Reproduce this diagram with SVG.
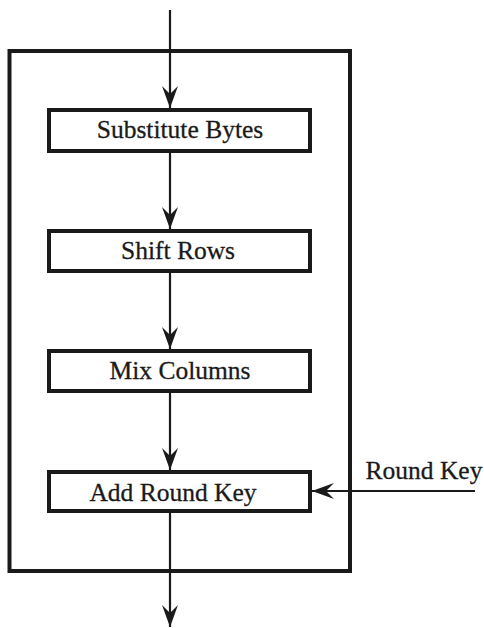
<svg xmlns="http://www.w3.org/2000/svg" width="484" height="628" viewBox="0 0 484 628">
<style>
.frame{fill:none;stroke:#1a1a1a;stroke-width:4}
.box{fill:#fff;stroke:#1a1a1a;stroke-width:4}
.lbl{font-family:"Liberation Serif","Times New Roman",serif;font-size:25.5px;fill:#1a1a1a;stroke:#1a1a1a;stroke-width:0.3;text-anchor:middle}
.conn{stroke:#1a1a1a;stroke-width:2.2;fill:none}
</style>
<defs>
<marker id="ah" viewBox="0 0 22 16" refX="22" refY="8" markerWidth="22" markerHeight="16" markerUnits="userSpaceOnUse" orient="auto">
<path d="M0,0 L22,8 L0,16 L8,8 Z" fill="#1a1a1a"/>
</marker>
</defs>
<rect id="round" class="frame" x="9.5" y="51" width="340.5" height="520"/>
<g id="connectors">
<line class="conn" x1="170" y1="10" x2="170" y2="108" marker-end="url(#ah)"/>
<line class="conn" x1="170" y1="153" x2="170" y2="229" marker-end="url(#ah)"/>
<line class="conn" x1="170" y1="273" x2="170" y2="349" marker-end="url(#ah)"/>
<line class="conn" x1="170" y1="393" x2="170" y2="470" marker-end="url(#ah)"/>
<line class="conn" x1="170" y1="513" x2="170" y2="627" marker-end="url(#ah)"/>
<line class="conn" x1="475" y1="491" x2="312" y2="491" marker-end="url(#ah)"/>
</g>
<g id="sub">
<rect class="box" x="49" y="110" width="261" height="41"/>
<text class="lbl" x="180" y="138">Substitute Bytes</text>
</g>
<g id="shift">
<rect class="box" x="49" y="231" width="261" height="40"/>
<text class="lbl" x="178" y="259">Shift Rows</text>
</g>
<g id="mix">
<rect class="box" x="49" y="351" width="261" height="40"/>
<text class="lbl" x="180" y="379">Mix Columns</text>
</g>
<g id="add">
<rect class="box" x="49" y="472" width="261" height="39"/>
<text class="lbl" x="173" y="501">Add Round Key</text>
</g>
<g id="key">
<text class="lbl" x="424" y="479">Round Key</text>
</g>
</svg>
